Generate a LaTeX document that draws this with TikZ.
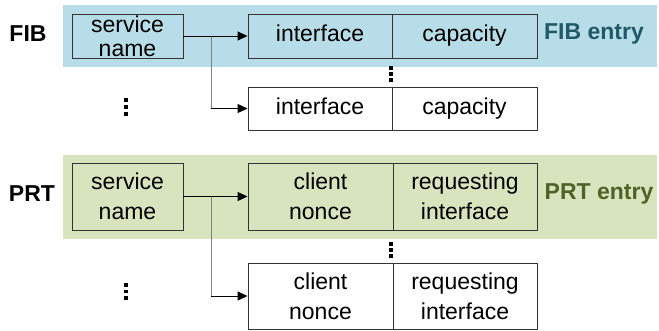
\documentclass[tikz,border=0pt]{standalone}
\usepackage{fontspec}
\setmainfont{Liberation Sans}
\usetikzlibrary{arrows.meta}
\definecolor{fibband}{HTML}{B7DDE8}
\definecolor{prtband}{HTML}{D7E4BD}
\definecolor{fibtext}{HTML}{215968}
\definecolor{prttext}{HTML}{4F6228}
\tikzset{
  field/.style={draw=black!80, line width=0.9pt, inner sep=0pt, align=center,
    font=\fontsize{23}{24}\selectfont},
  linefield/.style={field, text height=16.5pt, text depth=4.8pt},
  tallfield/.style={field, font=\fontsize{23}{30}\selectfont},
  tablelabel/.style={font=\fontsize{23}{24}\selectfont\bfseries},
  link/.style={draw=black, line width=0.9pt, -{Triangle[length=10pt,width=9pt]}},
  branch/.style={draw=black!50, line width=1pt},
  dot/.style={fill=black}
}
\begin{document}
\begin{tikzpicture}[x=1pt,y=-1pt]
\useasboundingbox (0,0) rectangle (659,330);

% table bands
\fill[fibband] (63,5) rectangle (657,67);
\fill[prtband] (63,155) rectangle (657,239);

% FIB
\node[tablelabel] (fiblbl) at (28,34) {FIB};
\node[field, minimum width=111pt, minimum height=44pt] (fibsn) at (127.5,36) {service\\name};
\node[linefield, minimum width=144pt, minimum height=44pt] (fibif1) at (320,36) {interface};
\node[linefield, minimum width=145pt, minimum height=44pt] (fibcap1) at (464.5,36) {capacity};
\node[linefield, minimum width=144pt, minimum height=43pt] (fibif2) at (320,108.5) {interface};
\node[linefield, minimum width=145pt, minimum height=43pt] (fibcap2) at (464.5,108.5) {capacity};
\node[tablelabel, text=fibtext] (fibentry) at (594,34) {FIB entry};
\coordinate (fibsplit) at (211,36);
\coordinate (fibturn) at (fibsplit |- fibif2.west);
\draw[branch] (fibsplit) -- (fibturn);
\draw[link] (fibsn.east) -- (fibif1.west);
\draw[link] (fibturn) -- (fibif2.west);

% PRT
\node[tablelabel] (prtlbl) at (32,194) {PRT};
\node[tallfield, minimum width=111pt, minimum height=67pt] (prtsn) at (127.5,196.5) {service\\name};
\node[tallfield, minimum width=145pt, minimum height=67pt] (prtcn1) at (320.5,196.5) {client\\nonce};
\node[tallfield, minimum width=144pt, minimum height=67pt] (prtri1) at (465,196.5) {requesting\\interface};
\node[tallfield, minimum width=145pt, minimum height=66pt] (prtcn2) at (320.5,296) {client\\nonce};
\node[tallfield, minimum width=144pt, minimum height=66pt] (prtri2) at (465,296) {requesting\\interface};
\node[tablelabel, text=prttext] (prtentry) at (599,194) {PRT entry};
\coordinate (prtsplit) at (211,196.5);
\coordinate (prtturn) at (prtsplit |- prtcn2.west);
\draw[branch] (prtsplit) -- (prtturn);
\draw[link] (prtsn.east) -- (prtcn1.west);
\draw[link] (prtturn) -- (prtcn2.west);

% ellipsis marks
\foreach \y in {98,105,112} \fill[dot] (124,\y) rectangle (128,\y+3.5);
\foreach \y in {283,289.5,296} \fill[dot] (124,\y) rectangle (128,\y+3.5);
\foreach \y in {66,72,78} \fill[dot] (389,\y) rectangle (393,\y+4);
\foreach \y in {242,248,254} \fill[dot] (389,\y) rectangle (393,\y+4);
\end{tikzpicture}
\end{document}
